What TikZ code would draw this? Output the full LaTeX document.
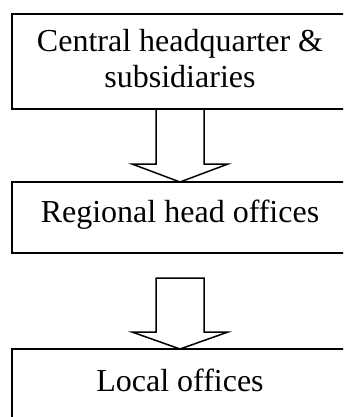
\documentclass[tikz,border=0pt]{standalone}
\usepackage{fontspec}
\setmainfont{Liberation Serif}
\usetikzlibrary{calc}
\begin{document}
\begin{tikzpicture}[x=1pt,y=-1pt,
  level/.style={draw=black,line width=1.9pt,minimum width=336pt,inner sep=0pt,outer sep=0pt},
  label/.style={anchor=base,font=\fontsize{32}{36}\selectfont,inner sep=0pt,align=center},
  blockarrow/.style={draw=black,line width=1.5pt,line join=miter,fill=white}]
\useasboundingbox (0,0) rectangle (343,417);
\clip (0,0) rectangle (343,417);
% the three levels of the organisation
\node[level,minimum height=95pt] (hq) at (180,61.5) {};
\node[level,minimum height=71pt] (reg) at (180,217.5) {};
\node[level,minimum height=73pt] (loc) at (180,385.5) {};
% their labels
\node[label] (hqt1) at (180,52) {Central headquarter \&};
\node[label] (hqt2) at (180,88) {subsidiaries};
\node[label] (regt) at (180,222) {Regional head offices};
\node[label] (loct) at (180,391) {Local offices};
% hollow arrow from headquarters to the regional offices (open at the top)
\draw[blockarrow,fill=none] ($(hq.south)+(-24,0)$) -- ($(reg.north)+(-24,-18)$)
  -- ($(reg.north)+(-48,-18)$) -- (reg.north) -- ($(reg.north)+(48,-18)$)
  -- ($(reg.north)+(24,-18)$) -- ($(hq.south)+(24,0)$);
% hollow arrow from the regional offices to the local offices
\coordinate (a2top) at ($(reg.south)+(0,25)$);
\draw[blockarrow] ($(a2top)+(-24,0)$) -- ($(loc.north)+(-24,-17)$)
  -- ($(loc.north)+(-48,-17)$) -- (loc.north) -- ($(loc.north)+(48,-17)$)
  -- ($(loc.north)+(24,-17)$) -- ($(a2top)+(24,0)$) -- cycle;
\end{tikzpicture}
\end{document}
